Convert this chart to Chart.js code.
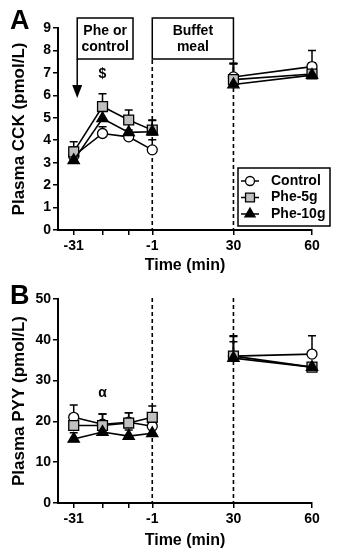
<!DOCTYPE html>
<html>
<head>
<meta charset="utf-8">
<script src="https://cdn.jsdelivr.net/npm/chart.js@4.4.1/dist/chart.umd.min.js"></script>
<style>
body { margin: 0; background: #fff; }
canvas { display: block; }
</style>
</head>
<body>
<canvas id="cck" width="341" height="275"></canvas>
<canvas id="pyy" width="341" height="275"></canvas>
<script>
// sampling times (min) and x axis ticks
const times = [-31, -20, -10, -1, 30, 60];
const xTicks = [-31, -20, -10, -1, 30, 60];
const xLabels = ['-31', '', '', '-1', '30', '60'];
const seriesNames = ['Control', 'Phe-5g', 'Phe-10g'];

// panel A : plasma CCK (pmol/L), mean and upper error
const cckControl = [3.3, 4.3, 4.15, 3.57, 6.82, 7.28];
const cckPhe5 = [3.48, 5.5, 4.9, 4.45, 6.7, 6.95];
const cckPhe10 = [3.1, 4.97, 4.35, 4.38, 6.48, 6.9];
const cckControlErr = [0.4, 0.3, 0.3, 0.45, 0.6, 0.72];
const cckPhe5Err = [0.45, 0.57, 0.45, 0.45, 0.7, 0.5];
const cckPhe10Err = [0.3, 0.5, 0.4, 0.5, 0.95, 0.4];
const cckTicks = [0, 1, 2, 3, 4, 5, 6, 7, 8, 9];

// panel B : plasma PYY (pmol/L)
const pyyControl = [21, 19.3, 19.8, 18.8, 36, 36.5];
const pyyPhe5 = [19, 19, 19.6, 21, 36, 33.3];
const pyyPhe10 = [15.7, 17.4, 16.4, 17.1, 35.5, 33.3];
const pyyControlErr = [3, 2.5, 2.3, 2.6, 5, 4.5];
const pyyPhe5Err = [2, 2.8, 2.5, 2.8, 4.8, 0.8];
const pyyPhe10Err = [1.5, 1.5, 1.5, 1.5, 4, 1];
const pyyTicks = [0, 10, 20, 30, 40, 50];

const FONT = '"Liberation Sans", Arial, sans-serif';

const styles = [
  { pointStyle: 'circle', radius: 5, bg: '#fff' },
  { pointStyle: 'rect', radius: 7, bg: '#c0c0c0' },
  { pointStyle: 'triangle', radius: 6.5, bg: '#000' }
];

function makeSets(values, errs) {
  return values.map((vals, k) => ({
    label: seriesNames[k],
    data: vals.map((v, i) => ({ x: times[i], y: v })),
    errors: errs[k],
    borderColor: '#000',
    borderWidth: 1.6,
    // no line across the meal (between -1 and 30 min)
    segment: { borderColor: c => (c.p0.parsed.x === -1 ? 'rgba(0,0,0,0)' : undefined) },
    pointStyle: styles[k].pointStyle,
    pointRadius: styles[k].radius,
    pointBackgroundColor: styles[k].bg,
    pointBorderColor: '#000',
    pointBorderWidth: 1.3,
    order: 3 - k,
    clip: false
  }));
}

const errorBars = {
  id: 'errorBars',
  beforeDatasetsDraw(chart) {
    const ctx = chart.ctx, xs = chart.scales.x, ys = chart.scales.y;
    ctx.save();
    ctx.strokeStyle = '#000';
    ctx.lineWidth = 1.5;
    chart.data.datasets.forEach(ds => {
      ds.data.forEach((p, i) => {
        const px = xs.getPixelForValue(p.x);
        const y0 = ys.getPixelForValue(p.y);
        const y1 = ys.getPixelForValue(p.y + ds.errors[i]);
        ctx.beginPath();
        ctx.moveTo(px, y0); ctx.lineTo(px, y1);
        ctx.moveTo(px - 4, y1); ctx.lineTo(px + 4, y1);
        ctx.stroke();
      });
    });
    ctx.restore();
  }
};

function dashed(ctx, x, y0, y1) {
  ctx.save();
  ctx.strokeStyle = '#000';
  ctx.lineWidth = 1.6;
  ctx.setLineDash([4, 3]);
  ctx.beginPath();
  ctx.moveTo(x, y0); ctx.lineTo(x, y1);
  ctx.stroke();
  ctx.restore();
}

function textBox(ctx, x0, x1, y0, y1, lines) {
  ctx.save();
  ctx.fillStyle = '#fff';
  ctx.fillRect(x0, y0, x1 - x0, y1 - y0);
  ctx.strokeStyle = '#000';
  ctx.lineWidth = 1.5;
  ctx.strokeRect(x0, y0, x1 - x0, y1 - y0);
  ctx.fillStyle = '#000';
  ctx.font = 'bold 14px ' + FONT;
  ctx.textAlign = 'center';
  ctx.textBaseline = 'middle';
  lines.forEach((t, i) => ctx.fillText(t, (x0 + x1) / 2, y0 + 13 + i * 16));
  ctx.restore();
}

const decor = {
  id: 'decor',
  beforeDatasetsDraw(chart, args, opts) {
    const ctx = chart.ctx, xs = chart.scales.x, area = chart.chartArea;
    const xm1 = xs.getPixelForValue(-1), x30 = xs.getPixelForValue(30);
    if (opts.panel === 'A') {
      dashed(ctx, xm1, 60, area.bottom);
      dashed(ctx, x30, 60, area.bottom);
      // arrow from the "Phe or control" box
      const ax = xs.getPixelForValue(-31) + 3.5;
      ctx.save();
      ctx.strokeStyle = '#000';
      ctx.lineWidth = 1.5;
      ctx.beginPath();
      ctx.moveTo(ax, 59); ctx.lineTo(ax, 88);
      ctx.stroke();
      ctx.fillStyle = '#000';
      ctx.beginPath();
      ctx.moveTo(ax - 5, 85); ctx.lineTo(ax + 5, 85); ctx.lineTo(ax, 98);
      ctx.closePath();
      ctx.fill();
      ctx.restore();
      textBox(ctx, ax, 133, 18, 59, ['Phe or', 'control']);
      textBox(ctx, xm1, x30, 18, 59, ['Buffet', 'meal']);
    } else {
      dashed(ctx, xm1, area.top - 1, area.bottom);
      dashed(ctx, x30, area.top - 1, area.bottom);
    }
  },
  afterDraw(chart, args, opts) {
    const ctx = chart.ctx, xs = chart.scales.x, ys = chart.scales.y;
    ctx.save();
    ctx.fillStyle = '#000';
    ctx.font = 'bold 27px ' + FONT;
    ctx.textAlign = 'left';
    ctx.textBaseline = 'alphabetic';
    ctx.fillText(opts.panel, 10, 29);
    ctx.font = 'bold 14px ' + FONT;
    ctx.textAlign = 'center';
    ctx.textBaseline = 'middle';
    ctx.fillText(opts.mark, xs.getPixelForValue(-20), ys.getPixelForValue(opts.markY));
    if (opts.panel === 'A') {
      // legend
      ctx.fillStyle = '#fff';
      ctx.fillRect(238, 168, 92, 58);
      ctx.strokeStyle = '#000';
      ctx.lineWidth = 1.5;
      ctx.strokeRect(238, 168, 92, 58);
      chart.data.datasets.forEach((ds, k) => {
        const yy = 181 + k * 16.5;
        ctx.lineWidth = 1.5;
        ctx.strokeStyle = '#000';
        ctx.beginPath();
        ctx.moveTo(241, yy); ctx.lineTo(259, yy);
        ctx.stroke();
        ctx.fillStyle = ds.pointBackgroundColor;
        ctx.lineWidth = 1.3;
        Chart.helpers.drawPoint(ctx, { pointStyle: ds.pointStyle, radius: ds.pointRadius * 0.9, borderWidth: 1.3, rotation: 0 }, 250, yy);
        ctx.fillStyle = '#000';
        ctx.textAlign = 'left';
        ctx.font = 'bold 14px ' + FONT;
        ctx.fillText(ds.label, 271, yy);
      });
    }
    ctx.restore();
  }
};

function makeChart(id, values, errs, yTicks, yTitle, top, xHeight, panel, mark, markY) {
  return new Chart(document.getElementById(id), {
    type: 'line',
    data: { datasets: makeSets(values, errs) },
    options: {
      responsive: false,
      animation: false,
      devicePixelRatio: 1,
      layout: { padding: { top: top, right: 29, left: 0, bottom: 0 } },
      plugins: {
        legend: { display: false },
        tooltip: { enabled: false },
        decor: { panel: panel, mark: mark, markY: markY }
      },
      scales: {
        x: {
          type: 'linear',
          min: -37,
          max: 60,
          afterBuildTicks: s => { s.ticks = xTicks.map(v => ({ value: v })); },
          afterFit: s => { s.height = xHeight; },
          ticks: {
            callback: (v, i) => xLabels[i],
            color: '#000',
            font: { family: FONT, size: 14, weight: 'bold' },
            padding: 3,
            maxRotation: 0,
            autoSkip: false
          },
          grid: { drawOnChartArea: false, drawTicks: true, tickLength: 5, color: '#000', lineWidth: 1.5 },
          border: { display: true, color: '#000', width: 2 },
          title: { display: true, text: 'Time (min)', color: '#000', font: { family: FONT, size: 16, weight: 'bold' }, padding: { top: 0, bottom: 0 } }
        },
        y: {
          min: yTicks[0],
          max: yTicks[yTicks.length - 1],
          afterBuildTicks: s => { s.ticks = yTicks.map(v => ({ value: v })); },
          afterFit: s => { s.width = 58; },
          ticks: {
            color: '#000',
            font: { family: FONT, size: 14, weight: 'bold' },
            padding: 2
          },
          grid: { drawOnChartArea: false, drawTicks: true, tickLength: 5, color: '#000', lineWidth: 1.5 },
          border: { display: true, color: '#000', width: 2 },
          title: { display: true, text: yTitle, color: '#000', font: { family: FONT, size: 17, weight: 'bold' }, padding: { top: 9, bottom: 0 } }
        }
      }
    },
    plugins: [errorBars, decor]
  });
}

makeChart('cck', [cckControl, cckPhe5, cckPhe10], [cckControlErr, cckPhe5Err, cckPhe10Err],
  cckTicks, 'Plasma CCK (pmol/L)', 28, 45, 'A', '$', 6.95);
makeChart('pyy', [pyyControl, pyyPhe5, pyyPhe10], [pyyControlErr, pyyPhe5Err, pyyPhe10Err],
  pyyTicks, 'Plasma PYY (pmol/L)', 24, 47, 'B', 'α', 27);
</script>
</body>
</html>
